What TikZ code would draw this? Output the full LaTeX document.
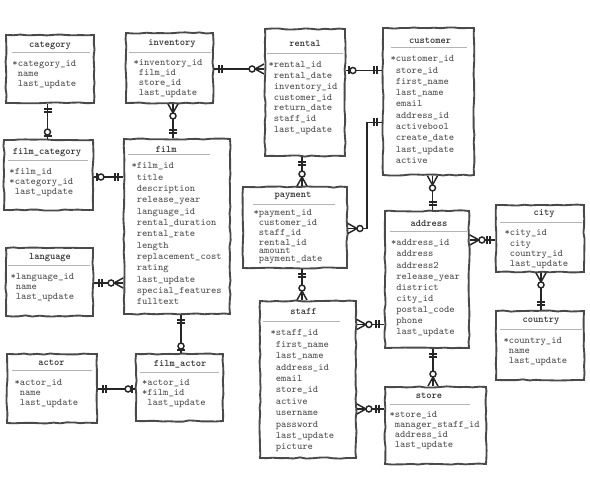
\documentclass[tikz,border=0pt]{standalone}
\usepackage{fontspec}
\usetikzlibrary{fit,decorations.pathmorphing,decorations.markings}

\definecolor{boxline}{HTML}{4A4A4A}
\definecolor{fieldtext}{HTML}{4F4F4F}
\definecolor{titletext}{HTML}{303030}
\definecolor{ruleline}{HTML}{B4B4B4}

% end symbols, #1 = 1 at the start of a link, -1 at its end
\newcommand\mkone[1]{\draw[link] (#1*3.75pt,-3pt) -- (#1*3.75pt,3pt) (#1*6pt,-3pt) -- (#1*6pt,3pt);}
\newcommand\mkmany[1]{\draw[link] (0,3.75pt) -- (#1*6.75pt,0) -- (0,-3.75pt); \draw[link,fill=white] (#1*9pt,0) circle (2.25pt);}
\newcommand\mkopt[1]{\draw[link] (#1*2.25pt,-3pt) -- (#1*2.25pt,3pt); \draw[link,fill=white] (#1*5.25pt,0) circle (2.25pt);}

\tikzset{every picture/.style={line width=0.75pt}}
\tikzset{
  link/.style={draw=black!85, line width=1.1pt},
  src/.style={postaction={decorate,decoration={markings,mark=at position 0 with {\csname mk#1\endcsname{1}}}}},
  dst/.style={postaction={decorate,decoration={markings,mark=at position 1 with {\csname mk#1\endcsname{-1}}}}},
}

\begin{document}
\begin{tikzpicture}[x=0.75pt,y=0.75pt,yscale=-1,xscale=1,
  entity/.style={draw=boxline, line width=1.4pt, fill=white, inner sep=0pt, decorate, decoration={random steps,segment length=5pt,amplitude=0.45pt}},
  head/.style={font=\fontsize{7.5}{8}\selectfont\ttfamily\bfseries, text=titletext, inner sep=0pt},
  fields/.style={anchor=north west, align=left, inner sep=0pt, text=fieldtext, font=\fontsize{7.5}{#1}\selectfont\ttfamily},
  fields/.default=8.1pt,
  rule/.style={draw=ruleline, line width=0.6pt}]
\pgfmathsetseed{11}
\path [use as bounding box, fill=white] (0,0) rectangle (590,498);

%Entity category
\node [entity, fit={(6,35) (94,103)}] (category) {};
\node [head] (category-h) at (50,46) {category};
\draw [rule] (12,52.7) -- (90,52.7);
\node [fields=7.5pt] (category-f) at (12,60) {*category\_id\\~name\\~last\_update};

%Entity inventory
\node [entity, fit={(126,33) (213,103)}] (inventory) {};
\node [head] (inventory-h) at (172,43.5) {inventory};
\draw [rule] (129,52) -- (211,52);
\node [fields=7.5pt] (inventory-f) at (133,59) {*inventory\_id\\~film\_id\\~store\_id\\~last\_update};

%Entity rental
\node [entity, fit={(265,29) (345,156)}] (rental) {};
\node [head] (rental-h) at (305,43) {rental};
\draw [rule] (267,53) -- (343,53);
\node [fields=8.1pt] (rental-f) at (268,61) {*rental\_id\\~rental\_date\\~inventory\_id\\~customer\_id\\~return\_date\\~staff\_id\\~last\_update};

%Entity customer
\node [entity, fit={(383,28) (474,175)}] (customer) {};
\node [head] (customer-h) at (430,41) {customer};
\draw [rule] (391,47.3) -- (467,47.3);
\node [fields=8.45pt] (customer-f) at (390,55.3) {*customer\_id\\~store\_id\\~first\_name\\~last\_name\\~email\\~address\_id\\~activebool\\~create\_date\\~last\_update\\~active};

%Entity film_category
\node [entity, fit={(4,140) (93,210)}] (filmcategory) {};
\node [head] (filmcategory-h) at (47,152.5) {film\_category};
\draw [rule] (8,160) -- (88,160);
\node [fields=7.7pt] (filmcategory-f) at (9,167.7) {*film\_id\\{*}category\_id\\~last\_update};

%Entity film
\node [entity, fit={(124,139) (230,314)}] (film) {};
\node [head] (film-h) at (166,149) {film};
\draw [rule] (128,154.5) -- (210,154.5);
\node [fields=8.52pt] (film-f) at (131,162) {*film\_id\\~title\\~description\\~release\_year\\~language\_id\\~rental\_duration\\~rental\_rate\\~length\\~replacement\_cost\\~rating\\~last\_update\\~special\_features\\~fulltext};

%Entity language
\node [entity, fit={(6,248) (93,316)}] (language) {};
\node [head] (language-h) at (50,257.7) {language};
\draw [rule] (8,265) -- (90,265);
\node [fields=7.7pt] (language-f) at (10,272.7) {*language\_id\\~name\\~last\_update};

%Entity payment
\node [entity, fit={(243,187) (347,268)}] (payment) {};
\node [head] (payment-h) at (293,195.7) {payment};
\draw [rule] (253,204) -- (335,204);
\node [fields=7.5pt] (payment-f) at (253,209.3) {*payment\_id\\~customer\_id\\~staff\_id\\~rental\_id\\[-1.5pt]~amount\\[-1.5pt]~payment\_date};

%Entity address
\node [entity, fit={(385,211) (469,348)}] (address) {};
\node [head] (address-h) at (429,223.3) {address};
\draw [rule] (390,231.7) -- (467,231.7);
\node [fields=8.3pt] (address-f) at (390.5,239.3) {*address\_id\\~address\\~address2\\~release\_year\\~district\\~city\_id\\~postal\_code\\~phone\\~last\_update};

%Entity city
\node [entity, fit={(496,205) (584,272)}] (city) {};
\node [head] (city-h) at (544,214) {city};
\draw [rule] (500,222.3) -- (582,222.3);
\node [fields=7.7pt] (city-f) at (504,229.3) {*city\_id\\~city\\~country\_id\\~last\_update};

%Entity country
\node [entity, fit={(496,311) (584,380)}] (country) {};
\node [head] (country-h) at (541,320.7) {country};
\draw [rule] (500,329) -- (582,329);
\node [fields=7.7pt] (country-f) at (503,336.7) {*country\_id\\~name\\~last\_update};

%Entity actor
\node [entity, fit={(7,354) (97,423)}] (actor) {};
\node [head] (actor-h) at (51.5,363) {actor};
\draw [rule] (12,370.7) -- (92,370.7);
\node [fields=7.7pt] (actor-f) at (14,378.7) {*actor\_id\\~name\\~last\_update};

%Entity film_actor
\node [entity, fit={(136,354) (223,421)}] (filmactor) {};
\node [head] (filmactor-h) at (180,364.7) {film\_actor};
\draw [rule] (140,372) -- (219,372);
\node [fields=7.7pt] (filmactor-f) at (141.5,378.7) {*actor\_id\\{*}film\_id\\~last\_update};

%Entity staff
\node [entity, fit={(260,301) (356,458)}] (staff) {};
\node [head] (staff-h) at (303.5,311.7) {staff};
\draw [rule] (263,321.7) -- (340,321.7);
\node [fields=8.55pt] (staff-f) at (270,329.3) {*staff\_id\\~first\_name\\~last\_name\\~address\_id\\~email\\~store\_id\\~active\\~username\\~password\\~last\_update\\~picture};

%Entity store
\node [entity, fit={(385,387) (486,464)}] (store) {};
\node [head] (store-h) at (429,396) {store};
\draw [rule] (390,404) -- (470,404);
\node [fields=7.5pt] (store-f) at (389,411) {*store\_id\\~manager\_staff\_id\\~address\_id\\~last\_update};

%Relations
\draw [link, src=one, dst=opt] (category.south -| 47.5,0) -- (filmcategory.north -| 47.5,0);
\draw [link, src=one, dst=many] (inventory.east |- 0,69) -- (rental.west |- 0,69);
\draw [link, src=many, dst=one] (inventory.south -| 173,0) -- (film.north -| 173,0);
\draw [link, src=opt, dst=one] (rental.east |- 0,70.5) -- (customer.west |- 0,70.5);
\draw [link, src=one, dst=many] (rental.south -| 302,0) -- (payment.north -| 302,0);
\draw [link, src=many, dst=one] (customer.south -| 432.5,0) -- (address.north -| 432.5,0);
\draw [link, src=one, dst=many] (customer.west |- 0,122.5) -| (367,228.5) -- (payment.east |- 0,228.5);
\draw [link, src=opt, dst=one] (filmcategory.east |- 0,177) -- (film.west |- 0,177);
\draw [link, src=one, dst=many] (language.east |- 0,283) -- (film.west |- 0,283);
\draw [link, src=one, dst=opt] (film.south -| 181,0) -- (filmactor.north -| 181,0);
\draw [link, src=one, dst=opt] (actor.east |- 0,389) -- (filmactor.west |- 0,389);
\draw [link, src=one, dst=many] (payment.south -| 302,0) -- (staff.north -| 302,0);
\draw [link, src=many, dst=one] (address.east |- 0,240) -- (city.west |- 0,240);
\draw [link, src=many, dst=one] (city.south -| 541,0) -- (country.north -| 541,0);
\draw [link, src=many, dst=one] (staff.east |- 0,324.5) -- (address.west |- 0,324.5);
\draw [link, src=one, dst=many] (address.south -| 433,0) -- (store.north -| 433,0);
\draw [link, src=many, dst=one] (staff.east |- 0,409) -- (store.west |- 0,409);

\end{tikzpicture}
\end{document}
